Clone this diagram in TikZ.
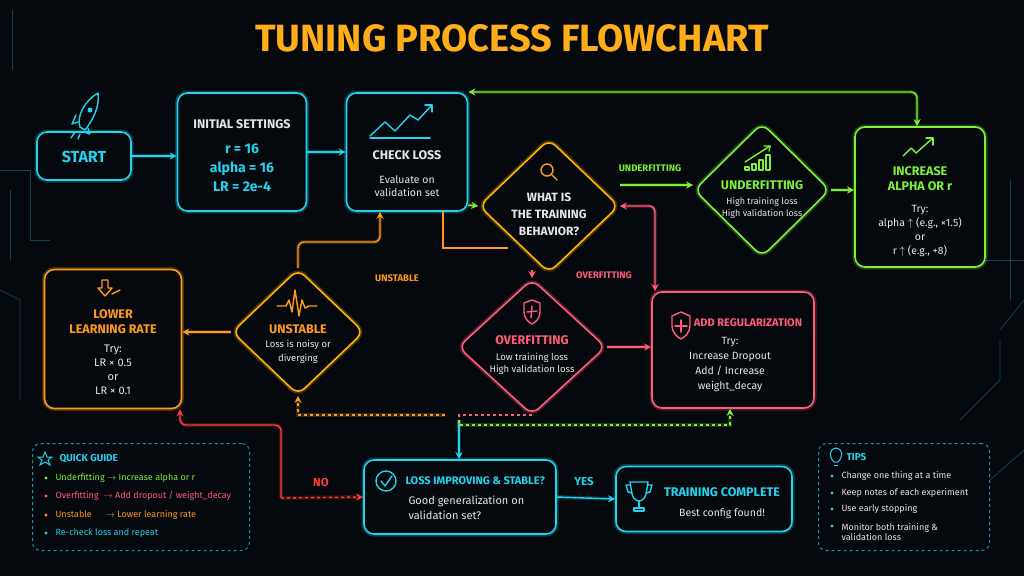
\documentclass[tikz,border=0pt]{standalone}
\usepackage{fontspec}
\setmainfont{Fira Sans}
\usetikzlibrary{shapes.geometric,arrows.meta}
\definecolor{bg}{HTML}{05080C}
\definecolor{cy}{HTML}{22D3EE}
\definecolor{og}{HTML}{FF9A1F}
\definecolor{yo}{HTML}{FFB300}
\definecolor{gr}{HTML}{7CF03C}
\definecolor{pk}{HTML}{FF5C7A}
\definecolor{rd}{HTML}{FF3B3B}
\definecolor{tx}{HTML}{E6E6E6}
\begin{document}
\begin{tikzpicture}[x=1pt,y=-1pt,
  glow/.style={preaction={draw=#1,line width=5pt,opacity=0.25},draw=#1,line width=1.6pt},
  box/.style={glow=#1,rounded corners=10pt,fill=bg},
  dia/.style={glow=#1,diamond,rounded corners=9pt,fill=bg,inner sep=0pt},
  con/.style={draw=#1,line width=1.4pt,-{Stealth[length=7pt,width=7pt]},preaction={draw=#1,line width=4pt,opacity=0.2}},
  lab/.style={font=\fontsize{9.5}{10}\selectfont\bfseries,text=#1},
  hd/.style={font=\fontsize{12.5}{15}\selectfont\bfseries,text=#1,align=center},
  bd/.style={font=\fontsize{10.5}{13}\selectfont,text=tx,align=center},
  guide/.style={draw=cy!70!black,dashed,line width=1pt,rounded corners=8pt,fill=bg},
  ic/.style={draw=#1,line width=1.4pt,line cap=round,line join=round}]
\fill[bg] (0,0) rectangle (1024,576);
\useasboundingbox (0,0) rectangle (1024,576);
% faint background circuits
\begin{scope}[draw=cy!30!bg,line width=0.8pt]
\draw (12,10) -- (12,70); \draw (0,170) -- (30,170) -- (30,240) -- (50,240);
\draw (10,190) -- (10,260); \draw (1010,180) -- (1010,300); \draw (1000,330) -- (1024,300);
\draw (960,420) -- (1000,380) -- (1000,340); \draw (880,260) -- (1024,260);
\draw (0,290) -- (20,300) -- (20,400); \draw (990,480) -- (1024,450);
\end{scope}
% title
\node[font=\fontsize{38}{42}\selectfont\bfseries,text=og!80!yellow] (title) at (512,38) {TUNING PROCESS FLOWCHART};
% nodes
\node[box=cy,minimum width=94pt,minimum height=48pt] (start) at (84,156) {};
\node[font=\fontsize{16}{18}\selectfont\bfseries,text=cy] at (84,157) {START};
\node[box=cy,minimum width=129pt,minimum height=118pt] (init) at (242,152) {};
\node[hd=tx,align=center] at (242,124) {INITIAL SETTINGS};
\node[font=\fontsize{14}{19}\selectfont\bfseries,text=cy,align=center] at (242,168) {r = 16\\alpha = 16\\LR = 2e-4};
\node[box=cy,minimum width=121pt,minimum height=118pt] (check) at (407,152) {};
\node[hd=tx] at (407,155) {CHECK LOSS};
\node[bd] at (407,186) {Evaluate on\\validation set};
\draw[ic=cy] (370,136) -- (385,122) -- (395,131) -- (410,115) -- (418,120) -- (432,105); \draw[ic=cy] (425,105) -- (432,105) -- (432,112);
\draw[ic=cy] (370,138) -- (430,138);
% rocket
\draw[ic=cy,fill=bg] (80,127) .. controls (76,115) and (86,100) .. (98,93) .. controls (100,106) and (93,120) .. (85,130) -- cycle;
\draw[ic=cy] (78,122) -- (72,124) -- (76,115); \draw[ic=cy] (88,128) -- (90,134) -- (84,132);
\draw[ic=cy] (75,132) -- (71,138); \draw[ic=cy] (80,134) -- (78,139);
\fill[cy] (90,110) circle (2.5pt);
% what is
\node[dia=yo,minimum width=140pt,minimum height=134pt] (what) at (549,206) {};
\node[hd=tx,font=\fontsize{12}{17}\selectfont\bfseries] at (549,214) {WHAT IS\\THE TRAINING\\BEHAVIOR?};
\draw[ic=og] (547,170) circle (6pt); \draw[ic=og] (551.5,174.5) -- (557,180);
% underfitting diamond
\node[dia=gr,minimum width=136pt,minimum height=134pt] (under) at (762,190) {};
\node[hd=gr] at (762,185) {UNDERFITTING};
\node[bd,font=\fontsize{9}{12.5}\selectfont] at (762,208) {High training loss\\High validation loss};
\draw[ic=gr] (745,170) rectangle (749,167); \draw[ic=gr] (752,170) rectangle (756,164); \draw[ic=gr] (759,170) rectangle (763,160); \draw[ic=gr] (766,170) rectangle (770,155);
\draw[ic=gr] (745,162) -- (770,146); \draw[ic=gr] (764,146) -- (770,146) -- (769,151);
% increase
\node[box=gr,minimum width=130pt,minimum height=140pt] (inc) at (920,197) {};
\node[hd=gr] at (920,179) {INCREASE\\ALPHA OR r};
\node[bd,font=\fontsize{10.5}{14}\selectfont] at (920,231) {Try:\\alpha $\uparrow$ (e.g., ×1.5)\\or\\r $\uparrow$ (e.g., +8)};
\draw[ic=gr] (903,156) -- (911,148) -- (916,153) -- (933,138); \draw[ic=gr] (926,138) -- (933,138) -- (933,145);
% overfitting diamond
\node[dia=pk,minimum width=148pt,minimum height=136pt] (over) at (532,347) {};
\node[hd=pk] at (532,340) {OVERFITTING};
\node[bd,font=\fontsize{9.5}{12.5}\selectfont] at (532,364) {Low training loss\\High validation loss};
\draw[ic=pk] (524,303) -- (532,300) -- (540,303) -- (540,312) .. controls (540,318) and (536,322) .. (532,324) .. controls (528,322) and (524,318) .. (524,312) -- cycle;
\draw[ic=pk] (532,306) -- (531,318); \draw[ic=pk] (527,312) -- (537,311);
% add reg
\node[box=pk,minimum width=162pt,minimum height=116pt] (reg) at (733,350) {};
\node[hd=pk,font=\fontsize{11}{12}\selectfont\bfseries] at (748,323) {ADD REGULARIZATION};
\node[bd,font=\fontsize{10.5}{15}\selectfont] at (730,364) {Try:\\Increase Dropout\\Add / Increase\\weight\_decay};
\draw[ic=pk] (672,316) -- (681,312) -- (690,316) -- (690,326) .. controls (690,332) and (685,337) .. (681,339) .. controls (677,337) and (672,332) .. (672,326) -- cycle;
\draw[ic=pk] (681,320) -- (681,332); \draw[ic=pk] (675,326) -- (687,326);
% unstable
\node[dia=yo,minimum width=132pt,minimum height=126pt] (unst) at (298,332) {};
\node[hd=og] at (298,329) {UNSTABLE};
\node[bd,font=\fontsize{9.5}{13.5}\selectfont] at (298,352) {Loss is noisy or\\diverging};
\draw[ic=og] (277,306) -- (286,306) -- (289,300) -- (292,312) -- (295,290) -- (299,316) -- (302,300) -- (305,308) -- (309,306) -- (317,306);
% lower LR
\node[box=og,minimum width=137pt,minimum height=139pt] (lower) at (113,339) {};
\node[hd=og] at (113,322) {LOWER\\LEARNING RATE};
\node[bd,font=\fontsize{11}{14}\selectfont] at (113,370) {Try:\\LR × 0.5\\or\\LR × 0.1};
\draw[ic=og] (102,280) -- (108,280) -- (108,288) -- (112,288) -- (105,296) -- (98,288) -- (102,288) -- cycle; \draw[ic=og] (112,294) -- (120,290);
% loss improving
\node[box=cy,minimum width=192pt,minimum height=74pt] (loss) at (460,497) {};
\node[hd=cy,font=\fontsize{11}{12}\selectfont\bfseries,anchor=west] at (402,481) {LOSS IMPROVING \& STABLE?};
\node[bd,font=\fontsize{11}{15}\selectfont,align=left,anchor=west] at (405,508) {Good generalization on\\validation set?};
\draw[ic=cy] (386,481) circle (10pt); \draw[ic=cy] (381,481) -- (385,486) -- (392,476);
% training complete
\node[box=cy,minimum width=176pt,minimum height=65pt] (done) at (704,499) {};
\node[hd=cy] at (722,492) {TRAINING COMPLETE};
\node[bd,font=\fontsize{10.5}{12}\selectfont] at (722,514) {Best config found!};
\draw[ic=cy] (630,482) -- (648,482) -- (646,494) .. controls (645,499) and (641,501) .. (639,501) .. controls (637,501) and (633,499) .. (632,494) -- cycle;
\draw[ic=cy] (630,485) -- (626,485) -- (628,492) -- (632,493); \draw[ic=cy] (648,485) -- (652,485) -- (650,492) -- (646,493);
\draw[ic=cy] (639,501) -- (639,507); \draw[ic=cy] (634,508) rectangle (644,511);
% connectors
\path[con=cy] (start) -- (init.west |- start);
\path[con=cy] (init) -- (check);
\path[con=gr] (check.east |- 0,205) -- (what.west);
\draw[og,line width=1.4pt] (443,211) -- (443,248) -- (508,248);
\path[con=gr] (what.east |- 0,185) -- (under.west |- 0,185);
\node[lab=gr] (lu) at (650,168) {UNDERFITTING};
\path[con=gr] (under.east) -- (inc.west |- under.east);
\path[con=gr,{Stealth[length=7pt,width=7pt]}-{Stealth[length=7pt,width=7pt]},rounded corners=6pt] (check.north east |- 0,92) -- (917,92) -- (inc.north -| 917,0);
\path[con=pk] (532,270) -- (over.north);
\node[lab=pk] (lo) at (604,275) {OVERFITTING};
\path[con=pk] (over.east) -- (reg.west |- over.east);
\path[con=pk,{Stealth[length=7pt,width=7pt]}-{Stealth[length=7pt,width=7pt]},rounded corners=6pt] (reg.north west -| 655,0) -- (655,206) -- (what.east |- 0,206);
\path[con=og,rounded corners=6pt] (unst.north) -- (298,242) -- (380,242) -- (check.south -| 380,0);
\node[lab=og] (lun) at (397,278) {UNSTABLE};
\path[con=og] (unst.west) -- (lower.east |- unst.west);
\coordinate (j) at (459,420);
\path[con=cy] (j) -- (loss.north -| j);
\path[con=og,dashed,line width=1.1pt] (445,415) -- (298,415) -- (unst.south);
\draw[pk,dashed,line width=1.1pt] (532,415) -- (459,415) -- (j);
\path[con=gr,dashed,line width=1.1pt] (j) -- (459,425) -- (730,425) -- (reg.south -| 730,0);
\path[con=rd,{Stealth[length=7pt,width=7pt]}-,rounded corners=6pt] (lower.south east -| 180,0) -- (180,425) -- (281,425) -- (281,498);
\path[con=rd,dashed] (281,498) -- (loss.west);
\node[lab=rd,font=\fontsize{11.5}{12}\selectfont\bfseries] (lno) at (321,483) {NO};
\path[con=cy] (loss.east) -- (done.west);
\node[lab=cy,font=\fontsize{11.5}{12}\selectfont\bfseries] (lyes) at (584,482) {YES};
% quick guide
\node[guide,minimum width=217pt,minimum height=107pt] (qg) at (141,497) {};
\draw[cy,line width=1pt] (45,452) -- (47,457) -- (52,457) -- (48,460) -- (50,465) -- (45,462) -- (40,465) -- (42,460) -- (38,457) -- (43,457) -- cycle;
\node[hd=cy,font=\fontsize{10}{11}\selectfont\bfseries,anchor=west] at (56,459) {QUICK GUIDE};
\begin{scope}[font=\fontsize{9}{10}\selectfont]
\fill[gr] (46,478) circle (1.6pt); \node[anchor=west,text=gr] at (52,478) {Underfitting $\rightarrow$ Increase alpha or r};
\fill[pk] (46,496) circle (1.6pt); \node[anchor=west,text=pk] at (52,496) {Overfitting \ $\rightarrow$ Add dropout / weight\_decay};
\fill[og] (46,515) circle (1.6pt); \node[anchor=west,text=og] at (52,515) {Unstable \quad\ $\rightarrow$ Lower learning rate};
\fill[cy] (46,533) circle (1.6pt); \node[anchor=west,text=cy] at (52,533) {Re-check loss and repeat};
\end{scope}
% tips
\node[guide,minimum width=171pt,minimum height=107pt] (tips) at (904,497) {};
\draw[cy,line width=1pt] (834,462) .. controls (828,456) and (830,448) .. (836,448) .. controls (842,448) and (844,456) .. (838,462) -- cycle; \draw[cy,line width=1pt] (834,465) -- (838,465);
\node[hd=cy,font=\fontsize{10}{11}\selectfont\bfseries,anchor=west] at (843,457) {TIPS};
\begin{scope}[font=\fontsize{9}{10.5}\selectfont,text=tx]
\fill[cy] (832,476) circle (1.6pt); \node[anchor=west] at (838,476) {Change one thing at a time};
\fill[cy] (832,493) circle (1.6pt); \node[anchor=west] at (838,493) {Keep notes of each experiment};
\fill[cy] (832,509) circle (1.6pt); \node[anchor=west] at (838,509) {Use early stopping};
\fill[cy] (832,526) circle (1.6pt); \node[anchor=west,align=left] at (838,532) {Monitor both training \&\\validation loss};
\end{scope}
\end{tikzpicture}
\end{document}
